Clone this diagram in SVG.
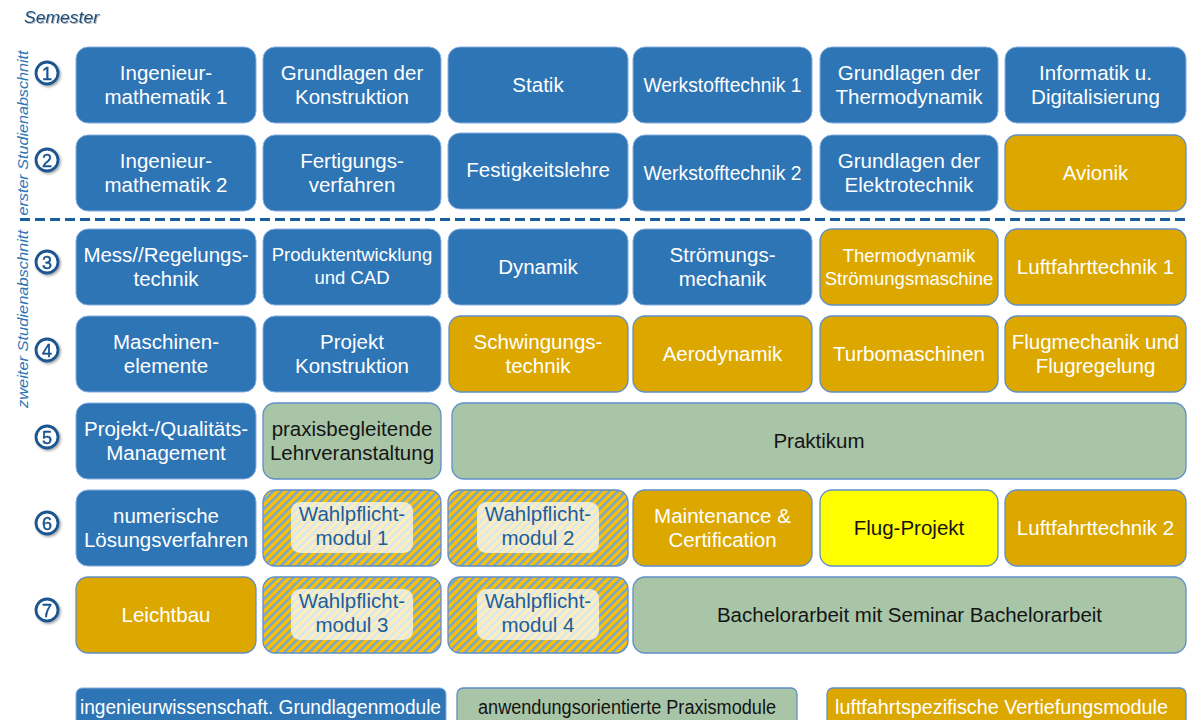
<svg xmlns="http://www.w3.org/2000/svg" width="1188" height="720" viewBox="0 0 1188 720">
<defs>
<pattern id="hatch" width="5.8" height="5.8" patternUnits="userSpaceOnUse" patternTransform="rotate(45)">
<rect width="5.8" height="5.8" fill="#ffc000"/>
<rect width="2.4" height="5.8" fill="#6ea6dc"/>
</pattern>
<filter id="sh" x="-30%" y="-30%" width="160%" height="160%">
<feDropShadow dx="1.5" dy="1.5" stdDeviation="0.9" flood-color="#000" flood-opacity="0.35"/>
</filter>
<filter id="tsh" x="-10%" y="-30%" width="120%" height="160%">
<feDropShadow dx="1" dy="1" stdDeviation="0.6" flood-color="#000" flood-opacity="0.3"/>
</filter>
</defs>
<style>
.b{fill:#2E75B6;stroke:#86aee0;stroke-width:1}
.o{fill:#DCA800;stroke:#5f8fc6;stroke-width:1.3}
.g{fill:#A9C5A8;stroke:#5f8fc6;stroke-width:1.3}
.y{fill:#FFFF00;stroke:#5f8fc6;stroke-width:1.3}
.h{fill:url(#hatch);stroke:#5f8fc6;stroke-width:1.3}
.in{fill:#ffffff;fill-opacity:0.72}
text{font-family:"Liberation Sans",Arial,sans-serif}
.t{font-size:20.5px;fill:#ffffff;text-anchor:middle}
.s{font-size:18.5px}
.k{fill:#141414}
.w{fill:#1f5d98}
.num{font-size:18px;fill:#1a5490;stroke:#1a5490;stroke-width:0.5;text-anchor:middle}
.circ{fill:#ffffff;stroke:#1a5490;stroke-width:2.8}
.side{font-size:14.5px;font-style:italic;fill:#2E75B6;text-anchor:middle}
.lg{font-size:20px;text-anchor:middle}
</style>
<rect width="1188" height="720" fill="#ffffff"/>

<g id="header">
<text x="24" y="23" font-size="16.5" font-style="italic" fill="#1f4e79" textLength="75" lengthAdjust="spacingAndGlyphs" filter="url(#tsh)">Semester</text>
<text class="side" transform="translate(28,133) rotate(-90)" textLength="165" lengthAdjust="spacingAndGlyphs">erster Studienabschnitt</text>
<text class="side" transform="translate(28,319) rotate(-90)" textLength="178" lengthAdjust="spacingAndGlyphs">zweiter Studienabschnitt</text>
<line x1="20" y1="219.5" x2="1188" y2="219.5" stroke="#1b5e9e" stroke-width="3" stroke-dasharray="10 5"/>
</g>

<g id="semester-numbers" filter="url(#sh)">
<circle class="circ" cx="47" cy="73" r="11"/><text class="num" x="47" y="79.5">1</text>
<circle class="circ" cx="47" cy="160" r="11"/><text class="num" x="47" y="166.5">2</text>
<circle class="circ" cx="47" cy="262" r="11"/><text class="num" x="47" y="268.5">3</text>
<circle class="circ" cx="47" cy="350" r="11"/><text class="num" x="47" y="356.5">4</text>
<circle class="circ" cx="47" cy="437" r="11"/><text class="num" x="47" y="443.5">5</text>
<circle class="circ" cx="47" cy="523" r="11"/><text class="num" x="47" y="529.5">6</text>
<circle class="circ" cx="47" cy="610" r="11"/><text class="num" x="47" y="616.5">7</text>
</g>

<!-- Row 1 -->
<g id="n-mathe1"><rect class="b" x="76" y="47" width="180" height="76" rx="12"/><text class="t" x="166" y="80">Ingenieur-</text><text class="t" x="166" y="104">mathematik 1</text></g>
<g id="n-konstruktion"><rect class="b" x="263" y="47" width="178" height="76" rx="12"/><text class="t" x="352" y="80">Grundlagen der</text><text class="t" x="352" y="104">Konstruktion</text></g>
<g id="n-statik"><rect class="b" x="448" y="47" width="180" height="76" rx="12"/><text class="t" x="538" y="92">Statik</text></g>
<g id="n-werkstoff1"><rect class="b" x="633" y="47" width="179" height="76" rx="12"/><text class="t" x="722.5" y="92" font-size="18" textLength="158" lengthAdjust="spacingAndGlyphs">Werkstofftechnik 1</text></g>
<g id="n-thermo"><rect class="b" x="820" y="47" width="178" height="76" rx="12"/><text class="t" x="909" y="80">Grundlagen der</text><text class="t" x="909" y="104">Thermodynamik</text></g>
<g id="n-informatik"><rect class="b" x="1005" y="47" width="181" height="76" rx="12"/><text class="t" x="1095.5" y="80">Informatik u.</text><text class="t" x="1095.5" y="104">Digitalisierung</text></g>

<!-- Row 2 -->
<g id="n-mathe2"><rect class="b" x="76" y="135" width="180" height="76" rx="12"/><text class="t" x="166" y="168">Ingenieur-</text><text class="t" x="166" y="192">mathematik 2</text></g>
<g id="n-fertigung"><rect class="b" x="263" y="135" width="178" height="76" rx="12"/><text class="t" x="352" y="168">Fertigungs-</text><text class="t" x="352" y="192">verfahren</text></g>
<g id="n-festigkeit"><rect class="b" x="448" y="133" width="180" height="76" rx="12"/><text class="t" x="538" y="177">Festigkeitslehre</text></g>
<g id="n-werkstoff2"><rect class="b" x="633" y="135" width="179" height="76" rx="12"/><text class="t" x="722.5" y="180" font-size="18" textLength="158" lengthAdjust="spacingAndGlyphs">Werkstofftechnik 2</text></g>
<g id="n-elektro"><rect class="b" x="820" y="135" width="178" height="76" rx="12"/><text class="t" x="909" y="168">Grundlagen der</text><text class="t" x="909" y="192">Elektrotechnik</text></g>
<g id="n-avionik"><rect class="o" x="1005" y="135" width="181" height="76" rx="12"/><text class="t" x="1095.5" y="180">Avionik</text></g>

<!-- Row 3 -->
<g id="n-mess"><rect class="b" x="76" y="229" width="180" height="76" rx="12"/><text class="t" x="166" y="262">Mess//Regelungs-</text><text class="t" x="166" y="286">technik</text></g>
<g id="n-produkt"><rect class="b" x="263" y="229" width="178" height="76" rx="12"/><text class="t s" x="352" y="261">Produktentwicklung</text><text class="t s" x="352" y="284">und CAD</text></g>
<g id="n-dynamik"><rect class="b" x="448" y="229" width="180" height="76" rx="12"/><text class="t" x="538" y="274">Dynamik</text></g>
<g id="n-stroemung"><rect class="b" x="633" y="229" width="179" height="76" rx="12"/><text class="t" x="722.5" y="262">Strömungs-</text><text class="t" x="722.5" y="286">mechanik</text></g>
<g id="n-thermo-stroem"><rect class="o" x="820" y="229" width="178" height="76" rx="12"/><text class="t s" x="909" y="262">Thermodynamik</text><text class="t s" x="909" y="285">Strömungsmaschine</text></g>
<g id="n-luftfahrt1"><rect class="o" x="1005" y="229" width="181" height="76" rx="12"/><text class="t" x="1095.5" y="274">Luftfahrttechnik 1</text></g>

<!-- Row 4 -->
<g id="n-maschinen"><rect class="b" x="76" y="316" width="180" height="76" rx="12"/><text class="t" x="166" y="349">Maschinen-</text><text class="t" x="166" y="373">elemente</text></g>
<g id="n-projektkon"><rect class="b" x="263" y="316" width="178" height="76" rx="12"/><text class="t" x="352" y="349">Projekt</text><text class="t" x="352" y="373">Konstruktion</text></g>
<g id="n-schwingung"><rect class="o" x="449" y="316" width="179" height="76" rx="12"/><text class="t" x="538" y="349">Schwingungs-</text><text class="t" x="538" y="373">technik</text></g>
<g id="n-aero"><rect class="o" x="633" y="316" width="179" height="76" rx="12"/><text class="t" x="722.5" y="361">Aerodynamik</text></g>
<g id="n-turbo"><rect class="o" x="820" y="316" width="178" height="76" rx="12"/><text class="t" x="909" y="361">Turbomaschinen</text></g>
<g id="n-flugmech"><rect class="o" x="1005" y="316" width="181" height="76" rx="12"/><text class="t" x="1095.5" y="349">Flugmechanik und</text><text class="t" x="1095.5" y="373">Flugregelung</text></g>

<!-- Row 5 -->
<g id="n-qualitaet"><rect class="b" x="76" y="403" width="180" height="76" rx="12"/><text class="t" x="166" y="436">Projekt-/Qualitäts-</text><text class="t" x="166" y="460">Management</text></g>
<g id="n-praxisbegl"><rect class="g" x="263" y="403" width="178" height="76" rx="12"/><text class="t k" x="352" y="436">praxisbegleitende</text><text class="t k" x="352" y="460">Lehrveranstaltung</text></g>
<g id="n-praktikum"><rect class="g" x="452" y="403" width="734" height="76" rx="12"/><text class="t k" x="819" y="448">Praktikum</text></g>

<!-- Row 6 -->
<g id="n-numerik"><rect class="b" x="76" y="490" width="180" height="76" rx="12"/><text class="t" x="166" y="523">numerische</text><text class="t" x="166" y="547">Lösungsverfahren</text></g>
<g id="n-wpm1"><rect class="h" x="263" y="490" width="178" height="76" rx="12"/><rect class="in" x="291" y="502" width="122" height="51" rx="9"/><text class="t w" x="352" y="521">Wahlpflicht-</text><text class="t w" x="352" y="545">modul 1</text></g>
<g id="n-wpm2"><rect class="h" x="448" y="490" width="180" height="76" rx="12"/><rect class="in" x="477" y="502" width="122" height="51" rx="9"/><text class="t w" x="538" y="521">Wahlpflicht-</text><text class="t w" x="538" y="545">modul 2</text></g>
<g id="n-maintenance"><rect class="o" x="633" y="490" width="179" height="76" rx="12"/><text class="t" x="722.5" y="523">Maintenance &amp;</text><text class="t" x="722.5" y="547">Certification</text></g>
<g id="n-flugprojekt"><rect class="y" x="820" y="490" width="178" height="76" rx="12"/><text class="t k" x="909" y="535">Flug-Projekt</text></g>
<g id="n-luftfahrt2"><rect class="o" x="1005" y="490" width="181" height="76" rx="12"/><text class="t" x="1095.5" y="535">Luftfahrttechnik 2</text></g>

<!-- Row 7 -->
<g id="n-leichtbau"><rect class="o" x="76" y="577" width="180" height="76" rx="12"/><text class="t" x="166" y="622">Leichtbau</text></g>
<g id="n-wpm3"><rect class="h" x="263" y="577" width="178" height="76" rx="12"/><rect class="in" x="291" y="589" width="122" height="51" rx="9"/><text class="t w" x="352" y="608">Wahlpflicht-</text><text class="t w" x="352" y="632">modul 3</text></g>
<g id="n-wpm4"><rect class="h" x="448" y="577" width="180" height="76" rx="12"/><rect class="in" x="477" y="589" width="122" height="51" rx="9"/><text class="t w" x="538" y="608">Wahlpflicht-</text><text class="t w" x="538" y="632">modul 4</text></g>
<g id="n-bachelor"><rect class="g" x="633" y="577" width="553" height="76" rx="12"/><text class="t k" x="909.5" y="622">Bachelorarbeit mit Seminar Bachelorarbeit</text></g>

<!-- Legend -->
<g id="legend-grundlagen"><rect class="b" x="76" y="688" width="370" height="42" rx="6"/><text class="lg" x="260.5" y="714" fill="#ffffff" textLength="361" lengthAdjust="spacingAndGlyphs">ingenieurwissenschaft. Grundlagenmodule</text></g>
<g id="legend-praxis"><rect class="g" x="457" y="688" width="340" height="42" rx="6"/><text class="lg" x="627" y="714" fill="#141414" textLength="298" lengthAdjust="spacingAndGlyphs">anwendungsorientierte Praxismodule</text></g>
<g id="legend-luftfahrt"><rect class="o" x="827" y="688" width="359" height="42" rx="6"/><text class="lg" x="1001.5" y="714" fill="#ffffff" textLength="333" lengthAdjust="spacingAndGlyphs">luftfahrtspezifische Vertiefungsmodule</text></g>
</svg>
